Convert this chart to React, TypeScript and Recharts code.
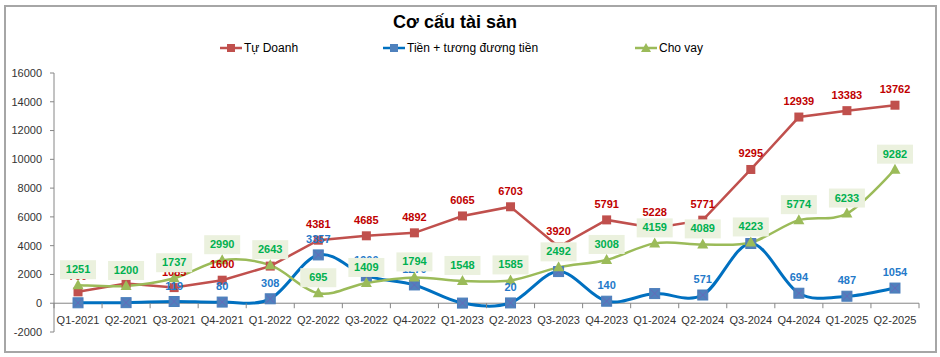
import React from "react";
import {
  LineChart,
  Line,
  XAxis,
  YAxis,
  ReferenceLine,
  LabelList,
} from "recharts";

const quarters = [
  "Q1-2021", "Q2-2021", "Q3-2021", "Q4-2021", "Q1-2022", "Q2-2022",
  "Q3-2022", "Q4-2022", "Q1-2023", "Q2-2023", "Q3-2023", "Q4-2023",
  "Q1-2024", "Q2-2024", "Q3-2024", "Q4-2024", "Q1-2025", "Q2-2025",
];
const tuDoanh = [
  790, 1370, 1085, 1600, 2580, 4381, 4685, 4892, 6065, 6703, 3920, 5791,
  5228, 5771, 9295, 12939, 13383, 13762,
];
const tienTuongDuong = [
  30, 40, 119, 80, 308, 3357, 1900, 1270, 10, 20, 2200, 140,
  670, 571, 4150, 694, 487, 1054,
];
const choVay = [
  1251, 1200, 1737, 2990, 2643, 695, 1409, 1794, 1548, 1585, 2492, 3008,
  4159, 4089, 4223, 5774, 6233, 9282,
];
// quarters where the cash label is not shown in the original
const tienNoLabel = ["Q1-2021", "Q2-2021", "Q1-2023", "Q1-2024", "Q3-2024"];
const yTicks = [-2000, 0, 2000, 4000, 6000, 8000, 10000, 12000, 14000, 16000];

const data = quarters.map((q, i) => ({
  q,
  tuDoanh: tuDoanh[i],
  tien: tienTuongDuong[i],
  tienLabel: tienNoLabel.includes(q) ? "" : tienTuongDuong[i],
  choVay: choVay[i],
}));

const W = 940;
const H = 357;
const M = { top: 73, right: 21, bottom: 5, left: 4 };
const Y_AXIS_W = 50;
const X_AXIS_H = 20;
const Y_MIN = -2000;
const Y_MAX = 16000;
const PLOT_W = W - M.left - M.right - Y_AXIS_W;
const PLOT_H = H - M.top - M.bottom - X_AXIS_H;
const BAND = PLOT_W / quarters.length;
const ZERO_Y = M.top + ((Y_MAX - 0) / (Y_MAX - Y_MIN)) * PLOT_H;

const FONT = "'Liberation Sans', Arial, sans-serif";

// excel style smoothing (catmull-rom like bezier)
function excelCurve(context: any) {
  let pts: number[][] = [];
  return {
    areaStart() {},
    areaEnd() {},
    lineStart() {
      pts = [];
    },
    point(x: number, y: number) {
      pts.push([+x, +y]);
    },
    lineEnd() {
      if (!pts.length) return;
      context.moveTo(pts[0][0], pts[0][1]);
      for (let i = 0; i < pts.length - 1; i++) {
        const p0 = pts[i - 1] || pts[i];
        const p1 = pts[i];
        const p2 = pts[i + 1];
        const p3 = pts[i + 2] || p2;
        context.bezierCurveTo(
          p1[0] + (p2[0] - p0[0]) / 6,
          p1[1] + (p2[1] - p0[1]) / 6,
          p2[0] - (p3[0] - p1[0]) / 6,
          p2[1] - (p3[1] - p1[1]) / 6,
          p2[0],
          p2[1]
        );
      }
    },
  };
}

const makeLabel = (color: string, box: boolean) => (props: any) => {
  const { x, y, value } = props;
  if (value === "" || value == null) return null;
  const cy = y - 16;
  return (
    <g>
      {box && (
        <rect x={x - 18} y={cy - 9} width={36} height={19} fill="#ebf1de" />
      )}
      <text
        x={x}
        y={cy}
        textAnchor="middle"
        dominantBaseline="central"
        fill={color}
        fontSize={11}
        fontWeight="bold"
        fontFamily={FONT}
      >
        {value}
      </text>
    </g>
  );
};

const RedDot = (props: any) => {
  const { cx, cy } = props;
  return <rect x={cx - 4.5} y={cy - 4.5} width={9} height={9} fill="#c0504d" />;
};

const BlueDot = (props: any) => {
  const { cx, cy } = props;
  return (
    <g>
      <rect x={cx - 5} y={cy - 5} width={10} height={10} fill="#4f81bd" stroke="#4a7ebb" />
      <path
        d={`M${cx - 4},${cy - 4}L${cx + 4},${cy + 4}M${cx + 4},${cy - 4}L${cx - 4},${cy + 4}`}
        stroke="#6c63b8"
        strokeWidth={0.8}
      />
    </g>
  );
};

const GreenDot = (props: any) => {
  const { cx, cy } = props;
  return (
    <path
      d={`M${cx},${cy - 6}L${cx + 5.5},${cy + 4}L${cx - 5.5},${cy + 4}Z`}
      fill="#9bbb59"
    />
  );
};

const XTick = (props: any) => {
  const { x, y, payload, index } = props;
  const last = index === quarters.length - 1;
  return (
    <g>
      <line x1={x - BAND / 2} x2={x - BAND / 2} y1={ZERO_Y} y2={ZERO_Y + 5} stroke="#868686" />
      {last && (
        <line x1={x + BAND / 2} x2={x + BAND / 2} y1={ZERO_Y} y2={ZERO_Y + 5} stroke="#868686" />
      )}
      <text
        x={x}
        y={y - 8}
        textAnchor="middle"
        fill="#333"
        fontSize={11}
        fontFamily={FONT}
      >
        {payload.value}
      </text>
    </g>
  );
};

const legendItems = [
  { name: "Tự Doanh", color: "#c0504d", shape: "square", left: 220 },
  { name: "Tiền + tương đương tiền", color: "#0070c0", marker: "#4f81bd", shape: "square", left: 383 },
  { name: "Cho vay", color: "#9bbb59", shape: "triangle", left: 635 },
];

export default function App() {
  return (
    <div
      style={{
        position: "absolute",
        left: 0,
        top: 0,
        width: W,
        height: H,
        background: "#fff",
        fontFamily: FONT,
      }}
    >
      <div
        style={{
          position: "absolute",
          left: 4,
          top: 5,
          width: 933,
          height: 348,
          border: "2px solid #a6a6a6",
          boxSizing: "border-box",
        }}
      />
      <div
        style={{
          position: "absolute",
          left: 255,
          width: 400,
          top: 12,
          textAlign: "center",
          fontSize: 18,
          fontWeight: "bold",
          color: "#000",
        }}
      >
        Cơ cấu tài sản
      </div>
      {legendItems.map((it) => (
        <div
          key={it.name}
          style={{
            position: "absolute",
            left: it.left,
            top: 41,
            display: "flex",
            alignItems: "center",
            fontSize: 12,
            color: "#000",
          }}
        >
          <svg width={22} height={12} style={{ marginRight: 2 }}>
            <line x1={0} x2={22} y1={6} y2={6} stroke={it.color} strokeWidth={2.5} />
            {it.shape === "square" ? (
              <rect x={7} y={2} width={8} height={8} fill={it.marker || it.color} />
            ) : (
              <path d="M11,1L16,10L6,10Z" fill={it.color} />
            )}
          </svg>
          {it.name}
        </div>
      ))}
      <div style={{ position: "absolute", left: 0, top: 0 }}>
        <LineChart width={W} height={H} data={data} margin={M}>
          <XAxis
            dataKey="q"
            height={X_AXIS_H}
            axisLine={false}
            tickLine={false}
            tickSize={0}
            tickMargin={0}
            interval={0}
            padding={{ left: BAND / 2, right: BAND / 2 }}
            tick={<XTick />}
          />
          <YAxis
            width={Y_AXIS_W}
            domain={[Y_MIN, Y_MAX]}
            ticks={yTicks}
            interval={0}
            axisLine={{ stroke: "#868686" }}
            tickLine={{ stroke: "#868686" }}
            tickSize={4}
            tickMargin={8}
            tick={{ fill: "#333", fontSize: 11, fontFamily: FONT }}
          />
          <ReferenceLine y={0} stroke="#868686" />
          <Line
            dataKey="tuDoanh"
            name="Tự Doanh"
            type="linear"
            stroke="#c0504d"
            strokeWidth={2.5}
            dot={<RedDot />}
            activeDot={false}
            isAnimationActive={false}
          >
            <LabelList dataKey="tuDoanh" content={makeLabel("#c00000", false)} />
          </Line>
          <Line
            dataKey="tien"
            name="Tiền + tương đương tiền"
            type={excelCurve as any}
            stroke="#0070c0"
            strokeWidth={3}
            dot={<BlueDot />}
            activeDot={false}
            isAnimationActive={false}
          >
            <LabelList dataKey="tienLabel" content={makeLabel("#2479c9", false)} />
          </Line>
          <Line
            dataKey="choVay"
            name="Cho vay"
            type={excelCurve as any}
            stroke="#9bbb59"
            strokeWidth={2.5}
            dot={<GreenDot />}
            activeDot={false}
            isAnimationActive={false}
          >
            <LabelList dataKey="choVay" content={makeLabel("#00b050", true)} />
          </Line>
        </LineChart>
      </div>
    </div>
  );
}
